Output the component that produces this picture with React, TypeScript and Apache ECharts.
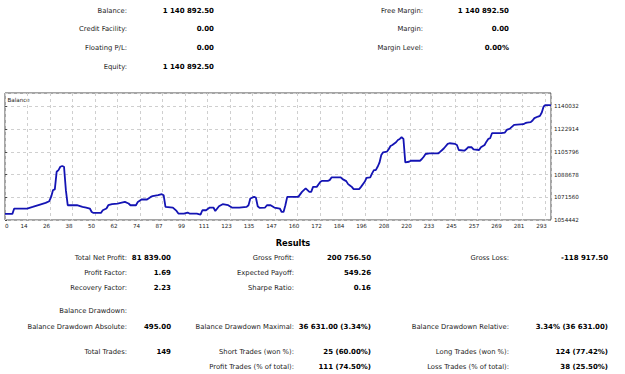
import React, { useEffect, useRef } from "react";
import * as echarts from "echarts";

// Account summary (label, value)
const accountLeft: [string, string][] = [
  ["Balance:", "1 140 892.50"],
  ["Credit Facility:", "0.00"],
  ["Floating P/L:", "0.00"],
  ["Equity:", "1 140 892.50"],
];
const accountRight: [string, string][] = [
  ["Free Margin:", "1 140 892.50"],
  ["Margin:", "0.00"],
  ["Margin Level:", "0.00%"],
];

// Results block, one list per column; null rows are left empty
const resultsCol1: ([string, string] | null)[] = [
  ["Total Net Profit:", "81 839.00"],
  ["Profit Factor:", "1.69"],
  ["Recovery Factor:", "2.23"],
  ["Balance Drawdown:", ""],
  ["Balance Drawdown Absolute:", "495.00"],
  ["Total Trades:", "149"],
  null,
];
const resultsCol2: ([string, string] | null)[] = [
  ["Gross Profit:", "200 756.50"],
  ["Expected Payoff:", "549.26"],
  ["Sharpe Ratio:", "0.16"],
  null,
  ["Balance Drawdown Maximal:", "36 631.00 (3.34%)"],
  ["Short Trades (won %):", "25 (60.00%)"],
  ["Profit Trades (% of total):", "111 (74.50%)"],
];
const resultsCol3: ([string, string] | null)[] = [
  ["Gross Loss:", "-118 917.50"],
  null,
  null,
  null,
  ["Balance Drawdown Relative:", "3.34% (36 631.00)"],
  ["Long Trades (won %):", "124 (77.42%)"],
  ["Loss Trades (% of total):", "38 (25.50%)"],
];

// Balance curve: deal number and balance after that deal
const dealNo = [
  0, 4, 5, 12, 15, 19, 22, 24, 25, 26, 27, 28, 29, 30, 31, 32, 33, 34, 39, 42,
  44, 46, 47, 48, 52, 53, 55, 56, 58, 61, 65, 67, 68, 71, 72, 74, 77, 79, 80, 83,
  85, 86, 87, 91, 93, 94, 97, 99, 100, 104, 106, 107, 109, 111, 113, 114, 116, 118, 121, 123,
  127, 131, 132, 133, 135, 136, 137, 138, 141, 142, 144, 146, 149, 150, 151, 152, 153, 159, 161, 163,
  164, 165, 166, 167, 169, 171, 172, 175, 176, 177, 182, 183, 185, 186, 187, 188, 189, 192, 193, 195,
  196, 198, 199, 200, 201, 202, 203, 204, 205, 207, 208, 209, 210, 212, 213, 214, 215, 216, 217, 219,
  220, 225, 226, 227, 228, 230, 235, 236, 237, 238, 240, 241, 244, 245, 246, 249, 250, 251, 253, 254,
  257, 258, 260, 261, 262, 263, 264, 269, 271, 272, 273, 274, 276, 281, 282, 283, 285, 286, 287, 289,
  290, 291, 292, 293, 295, 296,
];
const balance = [
  1059053.5, 1059053.5, 1063077, 1063077, 1064288, 1066106, 1067318, 1068606, 1071862, 1076937,
  1077467, 1090797, 1092085, 1094600, 1095189.5, 1094585, 1076937, 1065576, 1065576, 1064288,
  1063834, 1063077, 1060501, 1059744, 1059744, 1061789, 1063077, 1065576, 1066333, 1066864,
  1068075, 1066864, 1065576, 1065576, 1068075, 1069893, 1069893, 1071862, 1072392, 1073150,
  1073907, 1073150, 1064288, 1063834, 1061259, 1059290, 1059290, 1060047, 1059290, 1059290,
  1058558.5, 1061789, 1061789, 1063834, 1063834, 1061259, 1064818, 1066333, 1065576, 1063834,
  1063834, 1064288, 1065576, 1070650, 1071862, 1071408, 1064818, 1063531, 1063834, 1065576,
  1065576, 1063834, 1063077, 1060501, 1060501, 1065576, 1071862, 1071862, 1075649, 1078224,
  1076937, 1075649, 1075649, 1079436, 1079436, 1083223, 1083980, 1083980, 1084511, 1086557,
  1086557, 1085268, 1083753, 1081481, 1080497, 1079436, 1077694, 1077694, 1079436, 1083223,
  1086253, 1086557, 1089586, 1092085, 1092085, 1094584, 1097614, 1103446, 1105491, 1105946,
  1107762, 1110262, 1111019, 1113066, 1114809, 1115564, 1116851, 1115564, 1097917, 1098371,
  1099128, 1099128, 1100417, 1102158, 1104203, 1104733, 1104733, 1105946, 1107233, 1108520,
  1111778, 1112308, 1111778, 1111019, 1107233, 1106703, 1107762, 1109278, 1109278, 1107762,
  1107233, 1109278, 1111019, 1113519, 1115564, 1116094, 1119882, 1119882, 1120336, 1122380,
  1122910, 1123669, 1126167, 1126697, 1127455, 1127910, 1128213, 1129425, 1131243, 1132454,
  1132984, 1135485, 1140028, 1141089, 1141089, 1140892.5,
];

// Deal-number axis labels shown at each vertical grid line
const xTickLabels = [
  "0", "14", "26", "38", "50", "62", "74", "87", "99", "111", "123", "135", "147",
  "160", "172", "184", "196", "208", "220", "233", "245", "257", "269", "281", "293",
];
const X_MAX = 296;
const X_STEP = 12.2;
const Y_MIN = 1054442;
const Y_STEP = 17118;
const Y_MAX = 1150200;

const LABEL_FONT = "DejaVu Sans";
const TEXT = "#1b1b1b";

function labelText(x: number, y: number, text: string) {
  return {
    type: "text",
    x,
    y,
    silent: true,
    style: {
      text,
      align: "right",
      verticalAlign: "middle",
      fontFamily: LABEL_FONT,
      fontSize: 6.8,
      fill: TEXT,
    },
  };
}

function valueText(x: number, y: number, text: string) {
  return {
    type: "text",
    x,
    y,
    silent: true,
    style: {
      text,
      align: "right",
      verticalAlign: "middle",
      fontFamily: LABEL_FONT,
      fontWeight: "bold",
      fontSize: 7,
      fill: "#000",
    },
  };
}

function buildPairs(
  rows: ([string, string] | null)[],
  ys: number[],
  labelRight: number,
  valueRight: number
) {
  const out: any[] = [];
  rows.forEach((row, i) => {
    if (!row) return;
    out.push(labelText(labelRight, ys[i], row[0]));
    if (row[1]) out.push(valueText(valueRight, ys[i], row[1]));
  });
  return out;
}

export default function App() {
  const ref = useRef<HTMLDivElement>(null);

  useEffect(() => {
    if (!ref.current) return;
    const chart = echarts.init(ref.current, undefined, { renderer: "svg" });

    const accountY = [10.5, 29.3, 48.3, 67.3];
    const resultsY = [257.5, 273, 288, 311, 327, 352, 367];

    const graphics: any[] = [
      ...buildPairs(accountLeft, accountY, 127, 214),
      ...buildPairs(accountRight, accountY, 423, 509),
      {
        type: "text",
        x: 293,
        y: 243,
        silent: true,
        style: {
          text: "Results",
          align: "center",
          verticalAlign: "middle",
          fontFamily: LABEL_FONT,
          fontWeight: "bold",
          fontSize: 8.3,
          fill: "#000",
        },
      },
      ...buildPairs(resultsCol1, resultsY, 127, 171),
      ...buildPairs(resultsCol2, resultsY, 294, 371),
      ...buildPairs(resultsCol3, resultsY, 509, 608),
      {
        type: "text",
        x: 7.5,
        y: 99.5,
        silent: true,
        style: {
          text: "Balance",
          align: "left",
          verticalAlign: "middle",
          fontFamily: LABEL_FONT,
          fontSize: 5.6,
          fill: TEXT,
        },
      },
    ];

    const splitLine = {
      show: true,
      lineStyle: { color: "#cfcfcf", width: 1, type: [3, 3] as number[] },
    };

    chart.setOption({
      animation: false,
      backgroundColor: "#ffffff",
      grid: {
        left: 5,
        top: 93,
        right: 74,
        bottom: 154,
        show: true,
        borderColor: "#4a4a4a",
        borderWidth: 1,
        backgroundColor: "transparent",
      },
      xAxis: {
        type: "value",
        min: 0,
        max: X_MAX,
        interval: X_STEP,
        axisLine: { show: false },
        axisTick: { show: false },
        splitLine,
        axisLabel: {
          fontFamily: LABEL_FONT,
          fontSize: 5.6,
          color: TEXT,
          margin: 3,
          padding: [0, 7, 0, 0],
          showMaxLabel: false,
          alignMinLabel: "left",
          formatter: (v: number) => xTickLabels[Math.round(v / X_STEP)] ?? "",
        },
      },
      yAxis: {
        type: "value",
        position: "right",
        min: Y_MIN,
        max: Y_MAX,
        interval: Y_STEP,
        axisLine: { show: false },
        axisTick: { show: true, length: 2, lineStyle: { color: "#4a4a4a" } },
        splitLine,
        axisLabel: {
          fontFamily: LABEL_FONT,
          fontSize: 5.6,
          color: TEXT,
          margin: 3,
          showMaxLabel: false,
          formatter: (v: number) => String(Math.round(v)),
        },
      },
      graphic: graphics,
      series: [
        {
          name: "Balance",
          type: "line",
          data: dealNo.map((d, i) => [d, balance[i]]),
          showSymbol: false,
          symbol: "none",
          lineStyle: { color: "#1414b4", width: 1.8 },
          silent: true,
        },
      ],
    });

    return () => chart.dispose();
  }, []);

  return (
    <div
      ref={ref}
      style={{
        position: "fixed",
        left: 0,
        top: 0,
        width: 625,
        height: 374,
        background: "#fff",
      }}
    />
  );
}
